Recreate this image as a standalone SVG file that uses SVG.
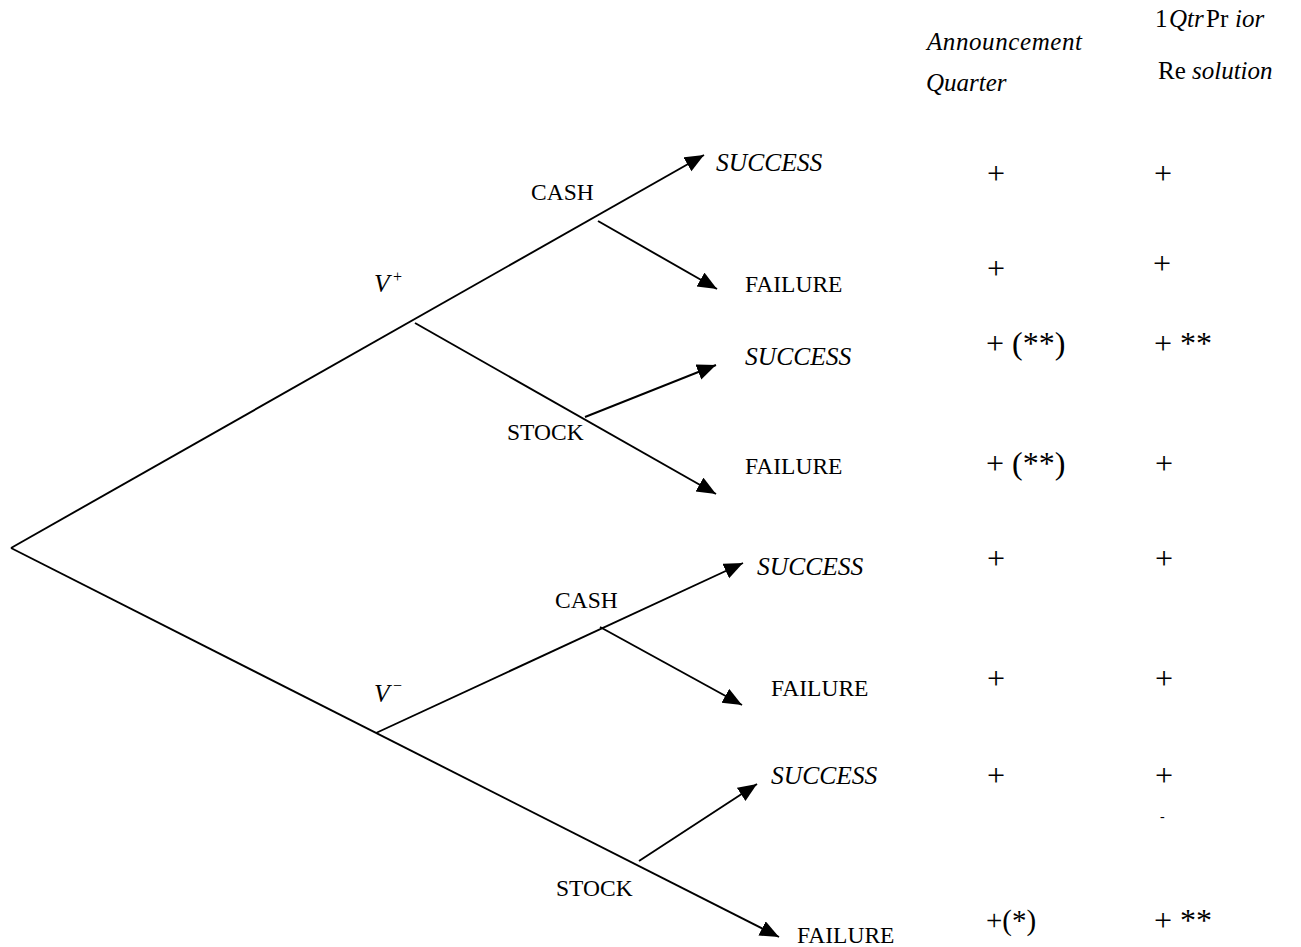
<svg xmlns="http://www.w3.org/2000/svg" width="1301" height="947" viewBox="0 0 1301 947">
<style>
text{font-family:"Liberation Serif","Times New Roman",serif;fill:#000}
.lbl{font-size:23.5px}
.it{font-style:italic;font-size:25.5px}
.hd{font-size:25px}
.i{font-style:italic}
.val{font-size:32px}
.sup{font-size:16px}
.edge{stroke:#000;stroke-width:1.9;fill:none}
.arr{marker-end:url(#ah)}
</style>
<defs>
<marker id="ah" markerUnits="userSpaceOnUse" markerWidth="22" markerHeight="18" refX="19" refY="8" orient="auto">
<path d="M0,0 L19,8 L0,16 Z" fill="#000"/>
</marker>
</defs>
<rect width="1301" height="947" fill="#fff"/>
<g id="connectors">
<line class="edge arr" x1="11" y1="548" x2="704" y2="155"/>
<line class="edge arr" x1="415" y1="323" x2="716" y2="494"/>
<line class="edge arr" x1="598" y1="221" x2="717" y2="289"/>
<line class="edge arr" x1="585" y1="417" x2="716" y2="365"/>
<line class="edge arr" x1="11" y1="548" x2="779" y2="937"/>
<line class="edge arr" x1="376" y1="733" x2="743" y2="563"/>
<line class="edge arr" x1="600" y1="627" x2="742" y2="705"/>
<line class="edge arr" x1="639" y1="861" x2="757" y2="784"/>
</g>
<g id="header">
<text class="hd i" x="927" y="50" textLength="155">Announcement</text>
<text class="hd i" x="926" y="91">Quarter</text>
<text class="hd" y="27"><tspan x="1155">1</tspan><tspan x="1169" class="i">Qtr</tspan><tspan x="1206">Pr</tspan><tspan x="1235" class="i">ior</tspan></text>
<text class="hd" y="79"><tspan x="1158">Re</tspan><tspan x="1192" class="i">solution</tspan></text>
</g>
<g id="node-vplus"><text class="it" x="374" y="292">V</text><text class="sup" x="393" y="282">+</text></g>
<g id="node-vminus"><text class="it" x="374" y="702">V</text><text class="sup" x="393" y="691">−</text></g>
<g id="node-cash1"><text class="lbl" x="531" y="200">CASH</text></g>
<g id="node-stock1"><text class="lbl" x="507" y="440">STOCK</text></g>
<g id="node-cash2"><text class="lbl" x="555" y="608">CASH</text></g>
<g id="node-stock2"><text class="lbl" x="556" y="896">STOCK</text></g>
<g id="node-success1"><text class="it" x="716" y="171">SUCCESS</text></g>
<g id="node-failure1"><text class="lbl" x="745" y="292">FAILURE</text></g>
<g id="node-success2"><text class="it" x="745" y="365">SUCCESS</text></g>
<g id="node-failure2"><text class="lbl" x="745" y="474">FAILURE</text></g>
<g id="node-success3"><text class="it" x="757" y="575">SUCCESS</text></g>
<g id="node-failure3"><text class="lbl" x="771" y="696">FAILURE</text></g>
<g id="node-success4"><text class="it" x="771" y="784">SUCCESS</text></g>
<g id="node-failure4"><text class="lbl" x="797" y="943">FAILURE</text></g>
<g id="values">
<text class="val" x="987" y="184">+</text><text class="val" x="1154" y="184">+</text>
<text class="val" x="987" y="279">+</text><text class="val" x="1153" y="274">+</text>
<text class="val" x="986" y="354">+ (**)</text><text class="val" x="1154" y="354">+ **</text>
<text class="val" x="986" y="474">+ (**)</text><text class="val" x="1155" y="474">+</text>
<text class="val" x="987" y="569">+</text><text class="val" x="1155" y="569">+</text>
<text class="val" x="987" y="689">+</text><text class="val" x="1155" y="689">+</text>
<text class="val" x="987" y="786">+</text><text class="val" x="1155" y="786">+</text>
<text x="1160" y="821" style="font-size:14px">-</text>
<text x="986" y="930" style="font-size:29px">+(*)</text><text class="val" x="1154" y="931">+ **</text>
</g>
</svg>
